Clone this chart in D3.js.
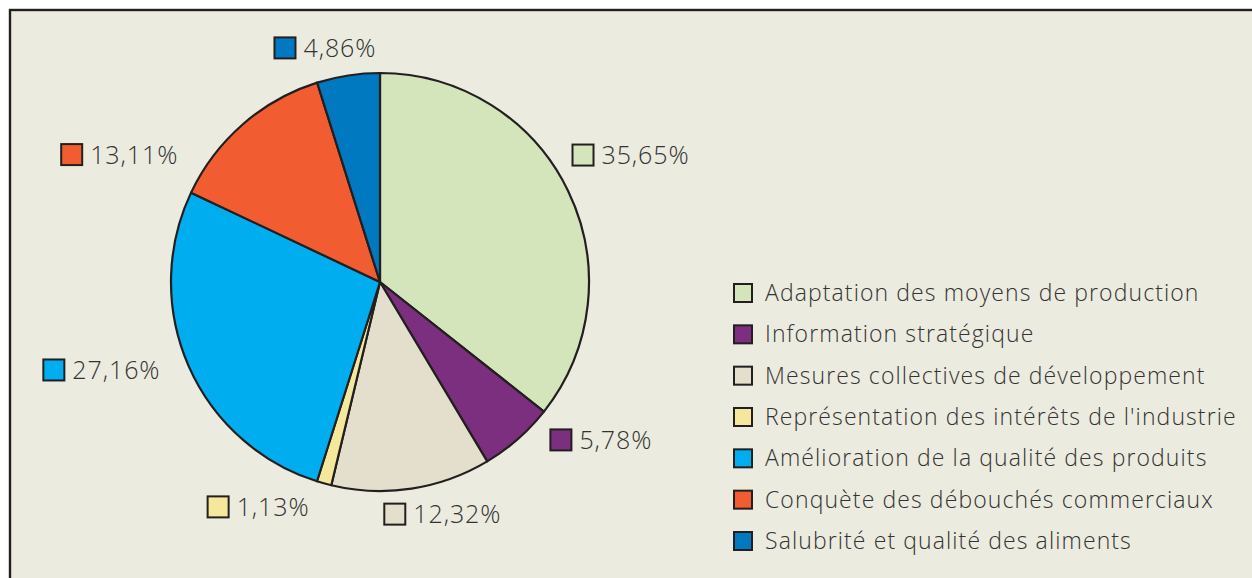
<!DOCTYPE html>
<html>
<head>
<meta charset="utf-8">
<script src="https://cdn.jsdelivr.net/npm/d3@7"></script>
<style>
  html, body { margin: 0; padding: 0; background: #ffffff; }
  svg { display: block; }
  text { font-family: "Open Sans", "Noto Sans", sans-serif; font-weight: 300; fill: #333333; }
</style>
</head>
<body>
<figure id="pie" style="margin:0"></figure>
<script>
// data
const categories = [
  "Adaptation des moyens de production",
  "Information stratégique",
  "Mesures collectives de développement",
  "Représentation des intérêts de l'industrie",
  "Amélioration de la qualité des produits",
  "Conquète des débouchés commerciaux",
  "Salubrité et qualité des aliments"
];
const shares = [35.65, 5.78, 12.32, 1.13, 27.16, 13.11, 4.86];
const shareLabels = ["35,65%", "5,78%", "12,32%", "1,13%", "27,16%", "13,11%", "4,86%"];
const colours = ["#d4e4bb", "#7b2f7e", "#e4dfcc", "#f5e89b", "#00adee", "#f15d31", "#0079c1"];

// label placement tweaks (from the outer centroid)
const labelNudge = [[-22, -18], [16, -30], [-23, -15], [-95, -16], [-97, -12], [-144, 61], [-57, 13]];

const width = 1252, height = 578;
const cx = 380, cy = 282, radius = 209;
const ink = "#231f20";

const svg = d3.select("figure#pie")
  .append("svg")
  .attr("width", width)
  .attr("height", height);

// panel with frame on top and left
svg.append("rect")
  .attr("x", 10).attr("y", 10)
  .attr("width", width + 20).attr("height", height + 20)
  .attr("fill", "#ecebe0")
  .attr("stroke", ink)
  .attr("stroke-width", 2.4);

const pie = d3.pie().sort(null).value(d => d);
const arcs = pie(shares);
const arc = d3.arc().innerRadius(0).outerRadius(radius);
const labelArc = d3.arc().innerRadius(250).outerRadius(250);

const g = svg.append("g").attr("transform", "translate(" + cx + "," + cy + ")");

g.selectAll("path.slice")
  .data(arcs)
  .enter()
  .append("path")
  .attr("class", "slice")
  .attr("d", arc)
  .attr("fill", (d, i) => colours[i])
  .attr("stroke", ink)
  .attr("stroke-width", 2.2)
  .attr("stroke-linejoin", "round");

// percentage labels
const sq = 21;
const lab = g.selectAll("g.lab")
  .data(arcs)
  .enter()
  .append("g")
  .attr("class", "lab")
  .attr("transform", (d, i) => {
    const c = labelArc.centroid(d);
    return "translate(" + (c[0] + labelNudge[i][0]) + "," + (c[1] + labelNudge[i][1]) + ")";
  });

lab.append("rect")
  .attr("x", -sq / 2).attr("y", -sq / 2)
  .attr("width", sq).attr("height", sq)
  .attr("fill", (d, i) => colours[i])
  .attr("stroke", ink)
  .attr("stroke-width", 2);

lab.append("text")
  .attr("x", sq / 2 + 8)
  .attr("y", 9)
  .attr("font-size", 25)
  .attr("letter-spacing", 0.9)
  .text((d, i) => shareLabels[i]);

// legend
const legendY = d3.scalePoint()
  .domain(categories)
  .range([293, 541]);

const leg = svg.append("g").selectAll("g")
  .data(categories)
  .enter()
  .append("g")
  .attr("transform", d => "translate(734," + legendY(d) + ")");

leg.append("rect")
  .attr("x", 0).attr("y", -9)
  .attr("width", 18).attr("height", 18)
  .attr("fill", (d, i) => colours[i])
  .attr("stroke", ink)
  .attr("stroke-width", 2);

leg.append("text")
  .attr("x", 31)
  .attr("y", 8)
  .attr("font-size", 23)
  .attr("letter-spacing", 1.1)
  .text(d => d);
</script>
</body>
</html>
